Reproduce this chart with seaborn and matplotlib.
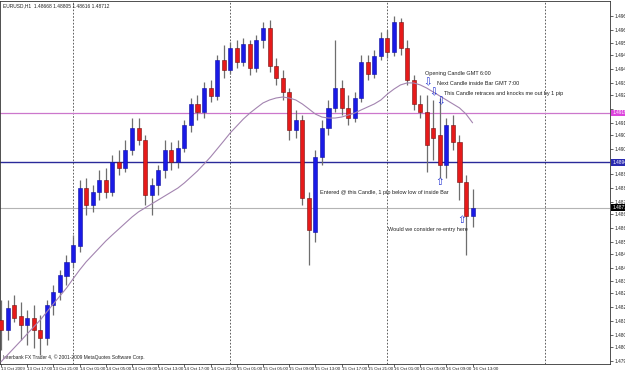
import matplotlib
matplotlib.use("Agg")
import matplotlib.pyplot as plt
import seaborn as sns
import numpy as np
import pandas as pd

# ---------------- data ----------------
opens = [1.48146, 1.48096, 1.48222, 1.48166, 1.48121, 1.48156, 1.48096, 1.48055, 1.48222, 1.48287,
         1.48368, 1.48439, 1.48519, 1.48811, 1.48726, 1.48791, 1.48852, 1.48791, 1.48943, 1.48912,
         1.49003, 1.49114, 1.49053, 1.48776, 1.48827, 1.48902, 1.49003, 1.48943, 1.49013, 1.49129,
         1.49235, 1.49195, 1.49315, 1.49275, 1.49457, 1.49406, 1.49517, 1.49447, 1.49537, 1.49416,
         1.49557, 1.49618, 1.49426, 1.49366, 1.49295, 1.49104, 1.49154, 1.48761, 1.48590, 1.48968,
         1.49114, 1.49215, 1.49315, 1.49215, 1.49164, 1.49265, 1.49447, 1.49386, 1.49477, 1.49567,
         1.49497, 1.49648, 1.49517, 1.49356, 1.49235, 1.49195, 1.49114, 1.49079, 1.48927, 1.49129,
         1.49043, 1.48842, 1.48668]
highs = [1.48247, 1.48247, 1.48272, 1.48237, 1.48197, 1.48222, 1.48171, 1.48247, 1.48323, 1.48398,
         1.48474, 1.48575, 1.48852, 1.48862, 1.48827, 1.48902, 1.48912, 1.48978, 1.49003, 1.49053,
         1.49164, 1.49164, 1.49079, 1.48862, 1.48927, 1.49053, 1.49043, 1.49053, 1.49154, 1.49265,
         1.49280, 1.49346, 1.49356, 1.49482, 1.49532, 1.49547, 1.49557, 1.49567, 1.49557, 1.49583,
         1.49648, 1.49658, 1.49467, 1.49406, 1.49315, 1.49205, 1.49179, 1.48791, 1.49003, 1.49154,
         1.49255, 1.49557, 1.49356, 1.49280, 1.49295, 1.49482, 1.49482, 1.49507, 1.49598, 1.49608,
         1.49678, 1.49668, 1.49557, 1.49381, 1.49280, 1.49280, 1.49255, 1.49265, 1.49164, 1.49179,
         1.49079, 1.48877, 1.48805]
lows = [1.47995, 1.48045, 1.48136, 1.48045, 1.48020, 1.48005, 1.47970, 1.48020, 1.48171, 1.48247,
        1.48323, 1.48408, 1.48489, 1.48675, 1.48691, 1.48751, 1.48761, 1.48771, 1.48877, 1.48892,
        1.48978, 1.49028, 1.48726, 1.48675, 1.48776, 1.48862, 1.48902, 1.48912, 1.48993, 1.49094,
        1.49154, 1.49164, 1.49245, 1.49255, 1.49366, 1.49386, 1.49416, 1.49426, 1.49381, 1.49396,
        1.49517, 1.49396, 1.49331, 1.49255, 1.49053, 1.49063, 1.48726, 1.48423, 1.48539, 1.48927,
        1.49079, 1.49195, 1.49179, 1.49129, 1.49144, 1.49245, 1.49356, 1.49366, 1.49457, 1.49467,
        1.49477, 1.49482, 1.49331, 1.49205, 1.49164, 1.48892, 1.48953, 1.48862, 1.48862, 1.49003,
        1.48751, 1.48474, 1.48616]
closes = [1.48096, 1.48207, 1.48156, 1.48121, 1.48156, 1.48096, 1.48055, 1.48222, 1.48287, 1.48373,
          1.48439, 1.48524, 1.48811, 1.48726, 1.48791, 1.48852, 1.48791, 1.48943, 1.48912, 1.49003,
          1.49114, 1.49053, 1.48776, 1.48827, 1.48902, 1.49003, 1.48943, 1.49013, 1.49129, 1.49235,
          1.49195, 1.49315, 1.49275, 1.49457, 1.49406, 1.49517, 1.49447, 1.49537, 1.49416, 1.49557,
          1.49618, 1.49426, 1.49366, 1.49295, 1.49104, 1.49154, 1.48761, 1.48600, 1.48968, 1.49114,
          1.49215, 1.49315, 1.49215, 1.49164, 1.49265, 1.49447, 1.49386, 1.49477, 1.49567, 1.49497,
          1.49648, 1.49517, 1.49356, 1.49235, 1.49195, 1.49028, 1.49063, 1.48927, 1.49129, 1.49043,
          1.48842, 1.48670, 1.48712]
ma_values = [1.47935, 1.47970, 1.48005, 1.48040, 1.48076, 1.48111, 1.48146, 1.48187, 1.48227, 1.48267,
             1.48307, 1.48353, 1.48398, 1.48439, 1.48474, 1.48509, 1.48544, 1.48575, 1.48605, 1.48635,
             1.48665, 1.48691, 1.48711, 1.48731, 1.48751, 1.48771, 1.48791, 1.48811, 1.48837, 1.48867,
             1.48897, 1.48932, 1.48968, 1.49008, 1.49048, 1.49089, 1.49124, 1.49159, 1.49189, 1.49215,
             1.49240, 1.49255, 1.49265, 1.49270, 1.49265, 1.49255, 1.49235, 1.49210, 1.49184, 1.49169,
             1.49164, 1.49164, 1.49169, 1.49179, 1.49189, 1.49205, 1.49220, 1.49235, 1.49255, 1.49285,
             1.49310, 1.49331, 1.49341, 1.49341, 1.49331, 1.49315, 1.49295, 1.49275, 1.49255, 1.49235,
             1.49215, 1.49184, 1.49140]

x_tick_labels = ["13 Oct 2009", "13 Oct 17:00", "13 Oct 21:00", "14 Oct 01:00", "14 Oct 05:00",
                 "14 Oct 09:00", "14 Oct 13:00", "14 Oct 17:00", "14 Oct 21:00", "15 Oct 01:00",
                 "15 Oct 05:00", "15 Oct 09:00", "15 Oct 13:00", "15 Oct 17:00", "15 Oct 21:00",
                 "16 Oct 01:00", "16 Oct 05:00", "16 Oct 09:00", "16 Oct 13:00"]
y_tick_labels = ["1.47940", "1.48010", "1.48070", "1.48140", "1.48210", "1.48280", "1.48340",
                 "1.48410", "1.48480", "1.48540", "1.48610", "1.48680", "1.48740", "1.48810",
                 "1.48880", "1.48940", "1.49010", "1.49080", "1.49140", "1.49210", "1.49280",
                 "1.49340", "1.49410", "1.49480", "1.49540", "1.49610", "1.49680"]
day_separators = [11, 35, 59, 83]
level_magenta = 1.49190
level_blue = 1.48940
bid_price = 1.48712
header_text = "EURUSD,H1  1.48668 1.48805 1.48616 1.48712"
copyright_text = "Interbank FX Trader 4, \u00a9 2001-2009 MetaQuotes Software Corp."

# ---------------- figure ----------------
sns.set_theme(style="white")
plt.rcParams["font.family"] = ["Liberation Sans", "DejaVu Sans"]

fig = plt.figure(figsize=(6.25, 3.72), dpi=100)
fig.patch.set_facecolor("white")
ax = fig.add_axes([0.0, 8 / 372, 610 / 625, 363 / 372])
ax.set_facecolor("white")

n = len(opens)
idx = np.arange(n)
df = pd.DataFrame({"bar": idx, "open": opens, "high": highs, "low": lows,
                   "close": closes, "ma": ma_values})

# separators and levels
for d in day_separators:
    ax.axvline(d, color="#444444", lw=0.6, ls=(0, (2, 2)), zorder=1)
ax.axhline(level_magenta, color="#cc77cc", lw=0.9, zorder=1)
ax.axhline(level_blue, color="#2a2a9a", lw=1.0, zorder=1)
ax.axhline(bid_price, color="#b4b4b4", lw=0.8, zorder=1)

# wicks
ax.vlines(df["bar"], df["low"], df["high"], color="#6e6e6e", lw=0.9, zorder=2)

# bodies
up = df["close"] >= df["open"]
body_w = 0.62
ax.bar(df.loc[up, "bar"], (df.loc[up, "close"] - df.loc[up, "open"]).clip(lower=0.00003),
       bottom=df.loc[up, "open"], width=body_w, color="#1a1ae6", edgecolor="#1010a0",
       linewidth=0.4, zorder=3)
ax.bar(df.loc[~up, "bar"], (df.loc[~up, "open"] - df.loc[~up, "close"]).clip(lower=0.00003),
       bottom=df.loc[~up, "close"], width=body_w, color="#e61a1a", edgecolor="#701010",
       linewidth=0.4, zorder=3)

# moving average
sns.lineplot(data=df, x="bar", y="ma", ax=ax, color="#a384b0", lw=0.8, zorder=4, legend=False)

# axes limits
ax.set_xlim(-0.153, 92.98)
ax.set_ylim(1.47924, 1.49754)

# ticks (labels hidden where a highlighted price box sits on the axis)
ax.yaxis.tick_right()
ax.set_yticks([float(v) for v in y_tick_labels])
shown = []
for v in y_tick_labels:
    fv = float(v)
    hide = abs(fv - level_magenta) < 0.00025 or abs(fv - level_blue) < 0.00025
    shown.append("" if hide else v)
ax.set_yticklabels(shown, fontsize=3.4, color="#222222")
xt = list(range(0, 4 * len(x_tick_labels), 4))
ax.set_xticks(xt)
ax.set_xticklabels(x_tick_labels, fontsize=3.2, color="#222222", ha="left")
ax.tick_params(axis="y", which="both", length=2, width=0.5, pad=1, direction="out", right=True, left=False)
ax.tick_params(axis="x", which="both", length=2, width=0.5, pad=0.5, direction="out", bottom=True)
ax.set_xlabel("")
ax.set_ylabel("")
for s in ax.spines.values():
    s.set_color("#333333")
    s.set_linewidth(0.6)

# highlighted price labels on the axis
for val, bg in [(level_magenta, "#dd44dd"), (level_blue, "#2a2ab0"), (bid_price, "#000000")]:
    ax.annotate(f"{val:.5f}", xy=(1.0, val), xycoords=("axes fraction", "data"),
                xytext=(1.5, 0), textcoords="offset points", fontsize=3.4, color="white",
                va="center", ha="left", zorder=10,
                bbox=dict(boxstyle="square,pad=0.15", fc=bg, ec=bg, lw=0), annotation_clip=False)

# header and copyright
ax.text(0.005, 0.988, header_text, transform=ax.transAxes, fontsize=3.5, color="#222222",
        ha="left", va="center")
ax.text(0.005, 0.02, copyright_text, transform=ax.transAxes, fontsize=3.5, color="#222222",
        ha="left", va="center")

# annotations
arrow_color = "#1a2ad0"
text_color = "#222222"
ax.text(64.7, 1.49391, "Opening Candle GMT 6:00", fontsize=4.0, color=text_color, ha="left", va="center")
ax.text(66.6, 1.49336, "Next Candle inside Bar GMT 7:00", fontsize=4.0, color=text_color, ha="left", va="center")
ax.text(67.6, 1.49290, "This Candle retraces and knocks me out by 1 pip", fontsize=4.0, color=text_color,
        ha="left", va="center")
ax.text(48.7, 1.48787, "Entered @ this Candle, 1 pip below low of inside Bar", fontsize=4.0, color=text_color,
        ha="left", va="center")
ax.text(59.1, 1.48600, "Would we consider re-entry here", fontsize=4.0, color=text_color, ha="left", va="center")

for xa, ya, ch in [(65.2, 1.49343, "\u21e9"), (66.0, 1.49296, "\u21e9"), (67.1, 1.49250, "\u21e9"),
                   (67.0, 1.48842, "\u21e7"), (70.4, 1.48650, "\u21e7")]:
    ax.text(xa, ya, ch, fontsize=7.5, color=arrow_color, ha="center", va="center",
            family=["DejaVu Sans"], zorder=6)

fig.savefig("out.png", dpi=100)
